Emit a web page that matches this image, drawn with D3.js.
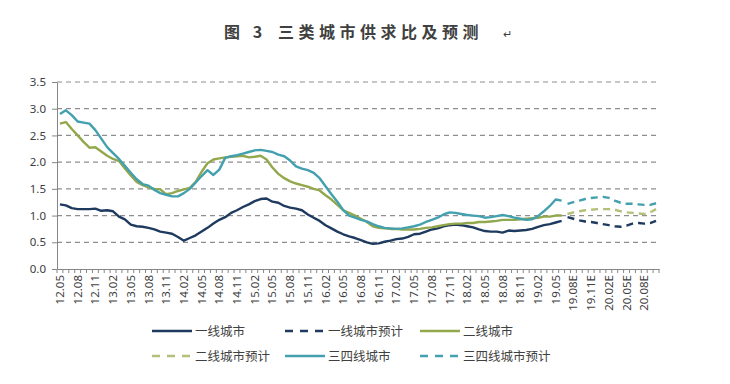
<!DOCTYPE html>
<html>
<head>
<meta charset="utf-8">
<script src="https://d3js.org/d3.v7.min.js"></script>
<style>
 body {margin:0; background:#fff;}
 text {font-family: "Noto Sans", "Noto Sans CJK SC", sans-serif; fill:#404040;}
</style>
</head>
<body>
<svg id="chart" width="730" height="384"></svg>
<script>
// monthly categories 12.05 .. 20.10
const months = [
 "12.05","12.06","12.07","12.08","12.09","12.10","12.11","12.12",
 "13.01","13.02","13.03","13.04","13.05","13.06","13.07","13.08","13.09","13.10","13.11","13.12",
 "14.01","14.02","14.03","14.04","14.05","14.06","14.07","14.08","14.09","14.10","14.11","14.12",
 "15.01","15.02","15.03","15.04","15.05","15.06","15.07","15.08","15.09","15.10","15.11","15.12",
 "16.01","16.02","16.03","16.04","16.05","16.06","16.07","16.08","16.09","16.10","16.11","16.12",
 "17.01","17.02","17.03","17.04","17.05","17.06","17.07","17.08","17.09","17.10","17.11","17.12",
 "18.01","18.02","18.03","18.04","18.05","18.06","18.07","18.08","18.09","18.10","18.11","18.12",
 "19.01","19.02","19.03","19.04","19.05","19.06","19.07E","19.08E","19.09E","19.10E","19.11E","19.12E",
 "20.01E","20.02E","20.03E","20.04E","20.05E","20.06E","20.07E","20.08E","20.09E","20.10E"
];
const tickLabels = [
 "12.05","12.08","12.11","13.02","13.05","13.08","13.11","14.02","14.05","14.08","14.11",
 "15.02","15.05","15.08","15.11","16.02","16.05","16.08","16.11","17.02","17.05","17.08","17.11",
 "18.02","18.05","18.08","18.11","19.02","19.05","19.08E","19.11E","20.02E","20.05E","20.08E"
];
const yTicks = [0, 0.5, 1, 1.5, 2, 2.5, 3, 3.5];

// actual values 12.05 .. 19.06
const tier1 = [1.21,1.19,1.14,1.12,1.12,1.12,1.13,1.09,1.10,1.08,0.98,0.93,0.83,0.80,0.79,0.77,0.74,0.70,0.68,0.66,
 0.60,0.53,0.58,0.63,0.70,0.77,0.85,0.92,0.97,1.05,1.10,1.16,1.21,1.27,1.31,1.32,1.26,1.24,1.18,1.15,
 1.13,1.10,1.02,0.96,0.90,0.82,0.76,0.70,0.65,0.61,0.58,0.54,0.50,0.47,0.48,0.51,0.53,0.56,0.57,0.60,
 0.65,0.66,0.70,0.74,0.76,0.80,0.82,0.83,0.82,0.80,0.78,0.74,0.71,0.70,0.70,0.68,0.72,0.71,0.72,0.73,
 0.75,0.79,0.82,0.84,0.87,0.90];
const tier2 = [2.72,2.75,2.62,2.50,2.38,2.27,2.28,2.20,2.12,2.06,2.02,1.88,1.75,1.63,1.57,1.53,1.50,1.49,1.40,1.42,
 1.46,1.49,1.52,1.63,1.82,1.98,2.05,2.07,2.09,2.10,2.11,2.12,2.09,2.10,2.12,2.05,1.90,1.78,1.70,1.64,
 1.60,1.57,1.54,1.50,1.47,1.38,1.30,1.20,1.10,1.05,1.00,0.94,0.88,0.80,0.77,0.76,0.75,0.75,0.74,0.74,
 0.74,0.75,0.77,0.78,0.80,0.82,0.84,0.85,0.85,0.86,0.86,0.88,0.88,0.89,0.90,0.92,0.92,0.92,0.93,0.94,
 0.95,0.96,0.98,0.98,1.00,1.00];
const tier3 = [2.90,2.97,2.88,2.76,2.74,2.72,2.60,2.44,2.28,2.17,2.06,1.93,1.80,1.68,1.59,1.56,1.48,1.42,1.39,1.36,
 1.36,1.42,1.50,1.62,1.74,1.85,1.76,1.86,2.08,2.11,2.13,2.16,2.19,2.22,2.23,2.21,2.19,2.14,2.11,2.03,
 1.92,1.88,1.85,1.80,1.70,1.55,1.40,1.26,1.10,1.00,0.96,0.92,0.89,0.84,0.80,0.77,0.76,0.75,0.76,0.78,
 0.80,0.83,0.88,0.92,0.96,1.02,1.06,1.05,1.03,1.01,1.00,0.99,0.96,0.97,0.99,1.01,0.99,0.96,0.94,0.92,
 0.93,0.99,1.08,1.18,1.30,1.28];
// forecasts 19.07E .. 20.10E
const tier1F = [0.97,0.94,0.91,0.89,0.88,0.86,0.84,0.82,0.80,0.79,0.81,0.85,0.86,0.85,0.86,0.90];
const tier2F = [1.03,1.06,1.08,1.10,1.11,1.12,1.12,1.12,1.11,1.08,1.06,1.05,1.04,1.03,1.06,1.12];
const tier3F = [1.22,1.25,1.28,1.31,1.33,1.34,1.35,1.33,1.28,1.24,1.22,1.22,1.21,1.20,1.20,1.23];

const series = [
 {name:"一线城市", vals:tier1, start:0, color:"#1f3a5f", dash:null},
 {name:"一线城市预计", vals:tier1F, start:tier1.length, color:"#1f3a5f", dash:"7,5"},
 {name:"二线城市", vals:tier2, start:0, color:"#93a84c", dash:null},
 {name:"二线城市预计", vals:tier2F, start:tier2.length, color:"#b3c07a", dash:"7,5"},
 {name:"三四线城市", vals:tier3, start:0, color:"#43a0ae", dash:null},
 {name:"三四线城市预计", vals:tier3F, start:tier3.length, color:"#43a0ae", dash:"7,5"}
];

const svg = d3.select("#chart");
const mLeft = 57, mRight = 659, mTop = 82, mBottom = 269;

const x = d3.scaleBand().domain(months).range([mLeft, mRight]).padding(0);
const y = d3.scaleLinear().domain([0, 3.5]).range([mBottom, mTop]);
const bw = x.bandwidth();

// title
const title = svg.append("text").attr("x", 224).attr("y", 38)
  .style("font-family", "'Noto Sans CJK SC', serif").style("font-weight", "bold")
  .style("font-size", "16px").style("letter-spacing", "4.5px").attr("fill", "#222");
title.append("tspan").text("图 3");
title.append("tspan").attr("x", 278).text("三类城市供求比及预测");
svg.append("text").attr("x", 503).attr("y", 38).style("font-size", "11px")
  .attr("fill", "#999").text("↵");

// grid
svg.append("g").selectAll("line").data(yTicks.slice(1)).join("line")
  .attr("x1", mLeft).attr("x2", mRight)
  .attr("y1", d => y(d)).attr("y2", d => y(d))
  .attr("stroke", "#8e8e8e").attr("stroke-width", 1.2).attr("stroke-dasharray", "5,4");

// y axis
const ya = svg.append("g").attr("transform", `translate(${mLeft},0)`)
  .call(d3.axisLeft(y).tickValues(yTicks).tickFormat(d3.format(".1f")).tickSize(5).tickSizeOuter(0).tickPadding(6));
ya.select(".domain").attr("stroke", "#868686");
ya.selectAll(".tick line").attr("stroke", "#868686");
ya.selectAll("text").style("font-size", "11.5px").attr("fill", "#404040");

// x axis
const labelSet = new Set(tickLabels);
const xa = svg.append("g").attr("transform", `translate(0,${mBottom})`)
  .call(d3.axisBottom(x).tickSize(4).tickSizeOuter(0).tickFormat(d => labelSet.has(d) ? d : ""));
xa.select(".domain").attr("stroke", "#868686");
xa.selectAll(".tick line").attr("stroke", "#868686").attr("x1", -bw / 2).attr("x2", -bw / 2);
xa.append("line").attr("x1", mRight).attr("x2", mRight).attr("y1", 0).attr("y2", 4).attr("stroke", "#868686");
xa.selectAll(".tick text")
  .attr("transform", "rotate(-90)")
  .attr("text-anchor", "end").attr("x", -6).attr("y", 0).attr("dy", "0.35em")
  .style("font-size", "11.5px").attr("fill", "#404040");

// lines
const line = d3.line()
  .x(d => x(months[d.i]) + bw / 2)
  .y(d => y(d.v));
series.forEach(s => {
  const pts = s.vals.map((v, k) => ({i: s.start + k, v: v}));
  svg.append("path").datum(pts)
    .attr("d", line).attr("fill", "none")
    .attr("stroke", s.color).attr("stroke-width", 2.4)
    .attr("stroke-dasharray", s.dash).attr("stroke-linejoin", "round");
});

// legend
const legPos = [[152, 331], [285, 331], [420, 331], [152, 356], [285, 356], [420, 356]];
series.forEach((s, k) => {
  const p = legPos[k];
  svg.append("line").attr("x1", p[0]).attr("x2", p[0] + 40)
    .attr("y1", p[1]).attr("y2", p[1])
    .attr("stroke", s.color).attr("stroke-width", 2.4)
    .attr("stroke-dasharray", s.dash ? "8,7" : null);
  svg.append("text").attr("x", p[0] + 43).attr("y", p[1]).attr("dy", "0.36em")
    .style("font-family", "'Noto Sans CJK SC', sans-serif").style("font-size", "12.5px")
    .attr("fill", "#404040").text(s.name);
});
</script>
</body>
</html>
